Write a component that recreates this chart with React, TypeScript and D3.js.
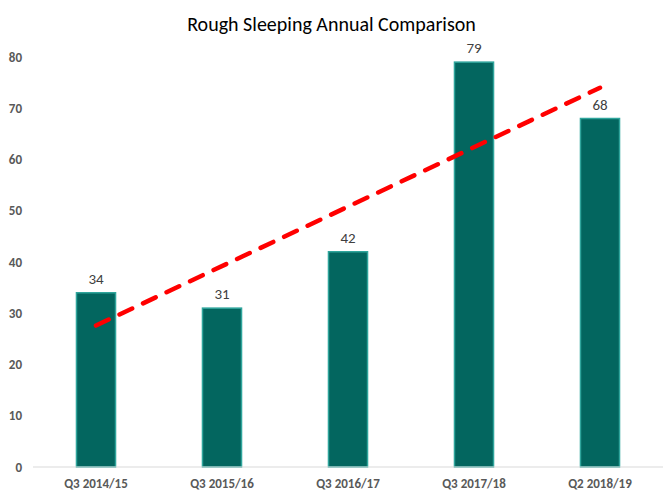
import React, { useEffect, useRef } from 'react';
import * as d3 from 'd3';

const categories = ['Q3 2014/15', 'Q3 2015/16', 'Q3 2016/17', 'Q3 2017/18', 'Q2 2018/19'];
const counts = [34, 31, 42, 79, 68];
const yTicks = [0, 10, 20, 30, 40, 50, 60, 70, 80];

const App: React.FC = () => {
  const ref = useRef<SVGSVGElement>(null);

  useEffect(() => {
    const width = 663;
    const svg = d3.select(ref.current);
    svg.selectAll('*').remove();

    const left = 33, right = 663, top = 57, bottom = 467;
    const font = "Carlito, Calibri, Lato, sans-serif";

    const x = d3.scaleBand<string>().domain(categories).range([left, right]).paddingInner(0.69).paddingOuter(0.345);
    const y = d3.scaleLinear().domain([0, 80]).range([bottom, top]);

    svg.append('text')
      .attr('x', width / 2)
      .attr('y', 31)
      .attr('text-anchor', 'middle')
      .style('font-family', font)
      .style('font-size', '20px')
      .attr('fill', '#000')
      .text('Rough Sleeping Annual Comparison');

    // y tick labels
    svg.append('g').selectAll('text')
      .data(yTicks)
      .join('text')
      .attr('x', 22)
      .attr('y', d => y(d) + 4.5)
      .attr('text-anchor', 'end')
      .style('font-family', font)
      .style('font-size', '13px')
      .style('font-weight', 'bold')
      .attr('fill', '#595959')
      .text(d => d);

    // bars
    svg.append('g').selectAll('rect')
      .data(counts)
      .join('rect')
      .attr('x', (d, i) => x(categories[i])!)
      .attr('y', d => y(d))
      .attr('width', x.bandwidth())
      .attr('height', d => bottom - y(d))
      .attr('fill', '#03665f')
      .attr('stroke', '#2fa59c')
      .attr('stroke-width', 1.5);

    // baseline
    svg.append('line')
      .attr('x1', left).attr('x2', right)
      .attr('y1', bottom).attr('y2', bottom)
      .attr('stroke', '#d9d9d9')
      .attr('stroke-width', 1);

    // value labels
    svg.append('g').selectAll('text')
      .data(counts)
      .join('text')
      .attr('x', (d, i) => x(categories[i])! + x.bandwidth() / 2)
      .attr('y', d => y(d) - 9)
      .attr('text-anchor', 'middle')
      .style('font-family', font)
      .style('font-size', '15px')
      .attr('fill', '#404040')
      .text(d => d);

    // category labels
    svg.append('g').selectAll('text')
      .data(categories)
      .join('text')
      .attr('x', d => x(d)! + x.bandwidth() / 2)
      .attr('y', 488)
      .attr('text-anchor', 'middle')
      .style('font-family', font)
      .style('font-size', '13px')
      .style('font-weight', 'bold')
      .attr('fill', '#595959')
      .text(d => d);

    // linear trendline (least squares)
    const n = counts.length;
    const xs = counts.map((_, i) => i + 1);
    const mx = d3.mean(xs)!, my = d3.mean(counts)!;
    const slope = d3.sum(xs, (v, i) => (v - mx) * (counts[i] - my)) / d3.sum(xs, v => (v - mx) ** 2);
    const intercept = my - slope * mx;
    const cx = (i: number) => x(categories[i])! + x.bandwidth() / 2;

    svg.append('line')
      .attr('x1', cx(0)).attr('y1', y(intercept + slope * 1))
      .attr('x2', cx(n - 1)).attr('y2', y(intercept + slope * n))
      .attr('stroke', '#ff0000')
      .attr('stroke-width', 4.5)
      .attr('stroke-linecap', 'round')
      .attr('stroke-dasharray', '14,12');
  }, []);

  return <svg ref={ref} width={663} height={491} style={{ display: 'block', position: 'absolute', left: 0, top: 0 }} />;
};

export default App;
